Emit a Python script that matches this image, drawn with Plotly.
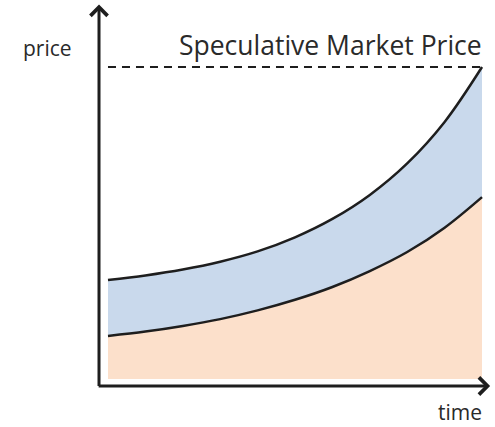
import plotly.graph_objects as go

# Time steps along the horizontal axis
time = [0, 1, 2, 3, 4, 5, 6, 7, 8, 9, 10]
# Upper bound of the price band (also reaches the speculative level at the end)
upper_price = [3.17, 3.32, 3.51, 3.76, 4.09, 4.54, 5.13, 5.90, 6.91, 8.24, 10.0]
# Lower bound of the price band
lower_price = [1.38, 1.52, 1.70, 1.92, 2.20, 2.54, 2.95, 3.46, 4.07, 4.85, 5.83]
# Speculative market price level
speculative_level = 10.0

axis_x0 = -0.24
axis_y0 = -0.224
x_max = 10.267
y_max = 12.0

line_col = "#1e1e1e"
text_col = "#2a2a2a"
font_family = "Open Sans, Noto Sans, sans-serif"

fig = go.Figure()

fig.add_trace(go.Scatter(
    x=time, y=lower_price, mode="lines",
    line=dict(color=line_col, width=2.5, shape="spline"),
    fill="tozeroy", fillcolor="#fce0cb", hoverinfo="skip",
))
fig.add_trace(go.Scatter(
    x=time, y=upper_price, mode="lines",
    line=dict(color=line_col, width=2.5, shape="spline"),
    fill="tonexty", fillcolor="#c9d9ec", hoverinfo="skip",
))
fig.add_trace(go.Scatter(
    x=[time[0], time[-1]], y=[speculative_level, speculative_level], mode="lines",
    line=dict(color=line_col, width=2, dash="8px,6px"), hoverinfo="skip",
))

# Axes drawn as arrows
fig.add_annotation(x=axis_x0, y=y_max, ax=axis_x0, ay=axis_y0 - 0.05,
                   xref="x", yref="y", axref="x", ayref="y",
                   showarrow=True, arrowhead=4, arrowsize=1.1, arrowwidth=3,
                   arrowcolor=line_col, text="")
fig.add_annotation(x=x_max - 0.05, y=axis_y0, ax=axis_x0 - 0.05, ay=axis_y0,
                   xref="x", yref="y", axref="x", ayref="y",
                   showarrow=True, arrowhead=4, arrowsize=1.1, arrowwidth=3,
                   arrowcolor=line_col, text="")

# Axis captions
fig.add_annotation(x=-0.127, y=0.885, xref="paper", yref="paper", text="price",
                   xanchor="center", yanchor="middle", showarrow=False,
                   font=dict(family=font_family, size=21, color=text_col))
fig.add_annotation(x=0.98, y=-0.068, xref="paper", yref="paper", text="time",
                   xanchor="right", yanchor="middle", showarrow=False,
                   font=dict(family=font_family, size=21, color=text_col))
fig.add_annotation(x=time[-1] + 0.05, y=speculative_level + 0.06, xref="x", yref="y",
                   xanchor="right", yanchor="bottom", text="Speculative Market Price",
                   showarrow=False, font=dict(family=font_family, size=26.5, color=text_col))

fig.update_layout(
    width=495, height=427,
    margin=dict(l=98, r=3, t=4, b=41),
    paper_bgcolor="white", plot_bgcolor="white",
    showlegend=False,
    xaxis=dict(range=[-0.267, x_max], visible=False, fixedrange=True),
    yaxis=dict(range=[axis_y0, 12.02], visible=False, fixedrange=True),
)

fig.write_html("out.html")
